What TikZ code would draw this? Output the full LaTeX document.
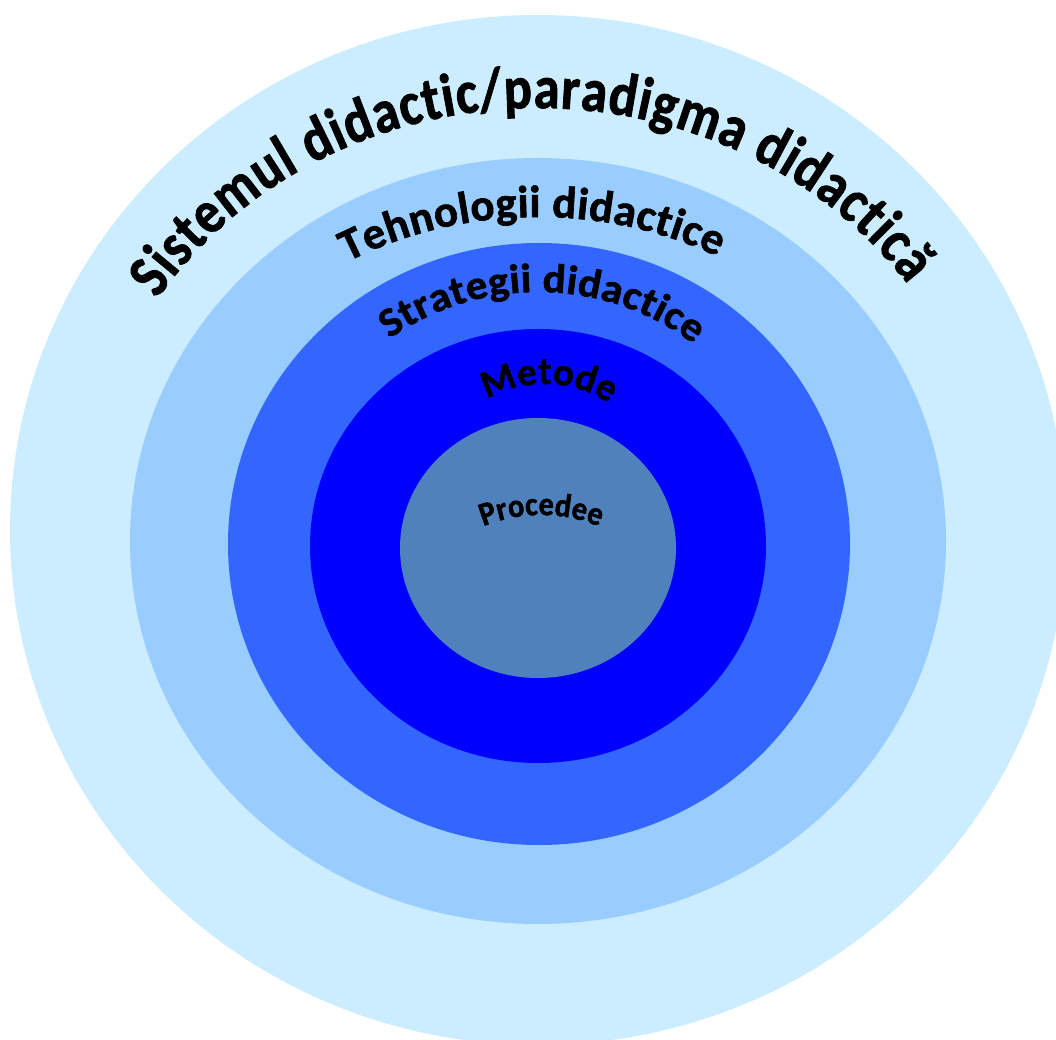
\documentclass[tikz,border=0pt]{standalone}
\usepackage{fontspec}
\setmainfont{Carlito}
\newfontfamily\fA{Carlito Bold}[FakeStretch=0.86,FakeBold=1.4]
\newfontfamily\fB{Carlito Bold}[FakeStretch=1.0,FakeBold=1.4]
\newfontfamily\fC{Carlito Bold}[FakeStretch=1.05,FakeBold=1.4]
\newfontfamily\fD{Carlito Bold}[FakeStretch=0.92,FakeBold=1.4]
\usetikzlibrary{decorations.text}
\definecolor{ringA}{HTML}{CCECFF}
\definecolor{ringB}{HTML}{99CCFF}
\definecolor{ringC}{HTML}{3366FF}
\definecolor{ringD}{HTML}{0000FF}
\definecolor{ringE}{HTML}{4F81BD}
\begin{document}
\begin{tikzpicture}[x=1pt,y=1pt,
  ringfill/.style={fill=#1, draw=none}]
\useasboundingbox (0,0) rectangle (1056,1039);
\clip (0,0) rectangle (1056,1039);
% rings
\path[ringfill=ringA] (538,509) ellipse [x radius=528, y radius=515];
\path[ringfill=ringB] (538,498) ellipse [x radius=408, y radius=383];
\path[ringfill=ringC] (539,495) ellipse [x radius=311, y radius=301];
\path[ringfill=ringD] (538,493) ellipse [x radius=228, y radius=217];
\path[ringfill=ringE] (538,491) ellipse [x radius=138, y radius=130];
% curved labels
\path[decorate, decoration={text along path, text align={fit to path},
  text={|\fA\fontsize{61}{66}\selectfont|Sistemul didactic/paradigma didactic{\char"0103}}}]
  (538,509) ++(146.8:455 and 422) arc[start angle=146.8, end angle=35.6, x radius=455, y radius=422];
\path[decorate, decoration={text along path, text align={fit to path},
  text={|\fB\fontsize{45}{48}\selectfont|Tehnologii didactice}}]
  (538,498) ++(120.5:375 and 324) arc[start angle=120.5, end angle=61.4, x radius=375, y radius=324];
\path[decorate, decoration={text along path, text align={fit to path},
  text={|\fC\fontsize{41}{44}\selectfont|Strategii didactice}}]
  (538,495) ++(125.5:256 and 252) arc[start angle=125.5, end angle=52.5, x radius=256, y radius=252];
\path[decorate, decoration={text along path, text align={fit to path},
  text={|\fB\fontsize{39}{42}\selectfont|Metode}}]
  (545,493) ++(115.2:136 and 162) arc[start angle=115.2, end angle=64.8, x radius=136, y radius=162];
\path[decorate, decoration={text along path, text align={fit to path},
  text={|\fD\fontsize{33}{36}\selectfont|Procedee}}]
  (541,371) ++(112.1:153 and 153) arc[start angle=112.1, end angle=67.6, x radius=153, y radius=153];
\end{tikzpicture}
\end{document}
